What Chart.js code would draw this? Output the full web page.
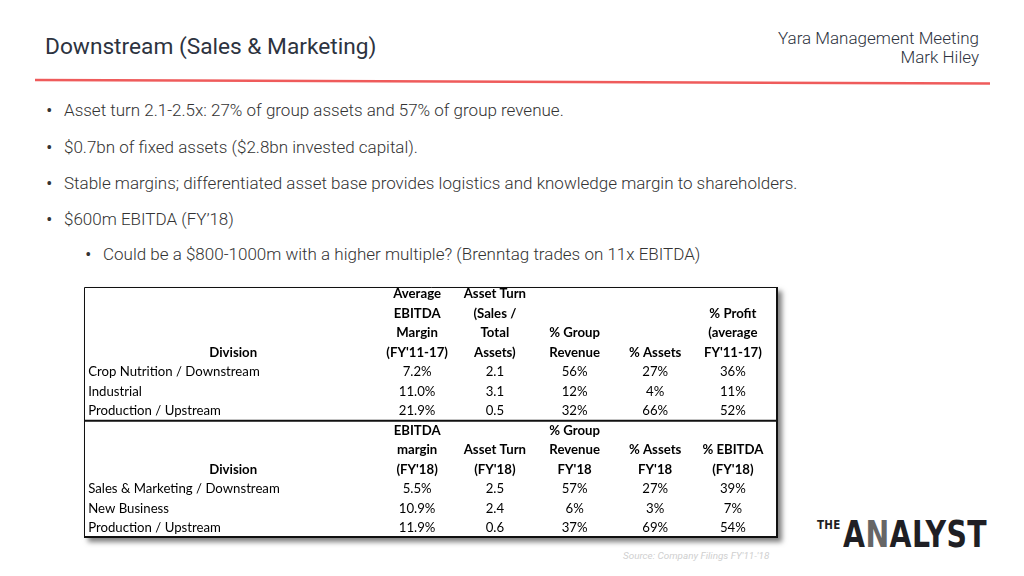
<!DOCTYPE html>
<html>
<head>
<meta charset="utf-8">
<script src="https://cdn.jsdelivr.net/npm/chart.js@4.4.1/dist/chart.umd.min.js"></script>
<style>
  html, body { margin: 0; padding: 0; background: #fff; }
  body { width: 1024px; height: 576px; position: relative; overflow: hidden; font-family: Roboto, "Noto Sans", sans-serif; color: #333; }
  .title { position: absolute; left: 45px; top: 33px; font-size: 22.7px; color: #2d3340; font-weight: 400; }
  .meta { position: absolute; right: 45px; top: 29px; text-align: right; font-size: 17px; line-height: 19px; color: #2d3340; font-weight: 300; }
  .rule { position: absolute; left: 0; top: 0; }
  .bullets { position: absolute; left: 0; top: 0; font-size: 17px; font-weight: 300; color: #333; }
  .bullets div { position: absolute; white-space: nowrap; line-height: 20px; }
  .bullets span.dot { position: absolute; left: -18px; top: 0; font-size: 20px; line-height: 20px; }
  .source { position: absolute; left: 623px; top: 550px; font-size: 9.9px; font-style: italic; color: #cfcfcf; }
  .logo { position: absolute; left: 817px; top: 512px; white-space: nowrap; color: #1f1f24; font-family: "Liberation Sans Narrow", "DejaVu Sans Condensed", sans-serif; font-weight: bold; }
  .logo .the { font-size: 11.5px; vertical-align: 18px; letter-spacing: 0.3px; }
  .logo .big { display: inline-block; font-size: 38px; letter-spacing: 0.5px; margin-left: 2px; transform: scaleX(0.83); transform-origin: left center; }
  .logo .n { color: #666; }
  #wrap { position: absolute; left: 80px; top: 283px; width: 715px; height: 265px; }
</style>
</head>
<body>
<div class="title">Downstream (Sales &amp; Marketing)</div>
<div class="meta">Yara Management Meeting<br>Mark Hiley</div>
<svg class="rule" width="1024" height="100"><line x1="35" y1="80" x2="990" y2="83.5" stroke="#ef5b5b" stroke-width="2.5"/></svg>

<div class="bullets">
  <div style="left:64px; top:100px;"><span class="dot">•</span>Asset turn 2.1-2.5x: 27% of group assets and 57% of group revenue.</div>
  <div style="left:64px; top:137px;"><span class="dot">•</span>$0.7bn of fixed assets ($2.8bn invested capital).</div>
  <div style="left:64px; top:173px;"><span class="dot">•</span>Stable margins; differentiated asset base provides logistics and knowledge margin to shareholders.</div>
  <div style="left:64px; top:209px;"><span class="dot">•</span>$600m EBITDA (FY’18)</div>
  <div style="left:103px; top:244px;"><span class="dot">•</span>Could be a $800-1000m with a higher multiple? (Brenntag trades on 11x EBITDA)</div>
</div>

<div id="wrap"><canvas id="tbl"></canvas></div>

<div class="source">Source: Company Filings FY'11-'18</div>
<div class="logo"><span class="the">THE</span><span class="big">A<span class="n">N</span>ALYST</span></div>

<script>
// ---- data: average FY'11-17 block ----
const divisionsPast = ['Crop Nutrition / Downstream', 'Industrial', 'Production / Upstream'];
const headersPast = [
  ['Division'],
  ['Average', 'EBITDA', 'Margin', "(FY'11-17)"],
  ['Asset Turn', '(Sales /', 'Total', 'Assets)'],
  ['% Group', 'Revenue'],
  ['% Assets'],
  ['% Profit', '(average', "FY'11-17)"]
];
const ebitdaMarginPast = [7.2, 11.0, 21.9];
const assetTurnPast = [2.1, 3.1, 0.5];
const revenueSharePast = [56, 12, 32];
const assetSharePast = [27, 4, 66];
const profitSharePast = [36, 11, 52];

// ---- data: FY'18 block ----
const divisionsFY18 = ['Sales & Marketing / Downstream', 'New Business', 'Production / Upstream'];
const headersFY18 = [
  ['Division'],
  ['EBITDA', 'margin', "(FY'18)"],
  ['Asset Turn', "(FY'18)"],
  ['% Group', 'Revenue', "FY'18"],
  ['% Assets', "FY'18"],
  ['% EBITDA', "(FY'18)"]
];
const ebitdaMarginFY18 = [5.5, 10.9, 11.9];
const assetTurnFY18 = [2.5, 2.4, 0.6];
const revenueShareFY18 = [57, 6, 37];
const assetShareFY18 = [27, 3, 69];
const ebitdaShareFY18 = [39, 7, 54];

// layout in table units (x: 0..100 across, y: text lines down)
const colCenters = [21.5, 48.0, 59.2, 70.7, 82.3, 93.5];
const labelX = 0.6;

const pct1 = v => v.toFixed(1) + '%';
const pct0 = v => v + '%';
const num1 = v => v.toFixed(1);

const blocks = [
  { top: 0, headerRows: 4, headers: headersPast, labels: divisionsPast,
    cols: [[ebitdaMarginPast, pct1], [assetTurnPast, num1], [revenueSharePast, pct0], [assetSharePast, pct0], [profitSharePast, pct0]] },
  { top: 7, headerRows: 3, headers: headersFY18, labels: divisionsFY18,
    cols: [[ebitdaMarginFY18, pct1], [assetTurnFY18, num1], [revenueShareFY18, pct0], [assetShareFY18, pct0], [ebitdaShareFY18, pct0]] }
];

const tablePlugin = {
  id: 'tableCells',
  beforeDraw(chart) {
    const { ctx, scales: { x, y } } = chart;
    const left = x.getPixelForValue(0), right = x.getPixelForValue(100);
    const top = y.getPixelForValue(-0.35), bottom = y.getPixelForValue(12.5);
    ctx.save();
    ctx.shadowColor = 'rgba(0,0,0,0.5)';
    ctx.shadowBlur = 5;
    ctx.shadowOffsetX = 4;
    ctx.shadowOffsetY = 4;
    ctx.fillStyle = '#fff';
    ctx.fillRect(left, top, right - left, bottom - top);
    ctx.restore();
  },
  afterDraw(chart) {
    const { ctx, scales: { x, y } } = chart;
    const left = x.getPixelForValue(0), right = x.getPixelForValue(100);
    const top = y.getPixelForValue(-0.35), bottom = y.getPixelForValue(12.5);
    const mid = y.getPixelForValue(6.5);
    ctx.save();
    ctx.textBaseline = 'middle';
    ctx.fillStyle = '#000';
    blocks.forEach(b => {
      // headers, aligned to the bottom header line
      ctx.font = 'bold 13.2px Lato, "Open Sans", sans-serif';
      ctx.textAlign = 'center';
      b.headers.forEach((lines, c) => {
        lines.forEach((txt, i) => {
          const row = b.top + b.headerRows - lines.length + i;
          ctx.fillText(txt, x.getPixelForValue(colCenters[c]), y.getPixelForValue(row));
        });
      });
      ctx.font = '13.2px Lato, "Open Sans", sans-serif';
      b.labels.forEach((lab, r) => {
        const py = y.getPixelForValue(b.top + b.headerRows + r);
        ctx.textAlign = 'left';
        ctx.fillText(lab, x.getPixelForValue(labelX), py);
        ctx.textAlign = 'center';
        b.cols.forEach(([vals, fmt], c) => {
          ctx.fillText(fmt(vals[r]), x.getPixelForValue(colCenters[c + 1]), py);
        });
      });
    });
    // borders
    ctx.strokeStyle = '#111';
    ctx.lineWidth = 1;
    ctx.beginPath();
    ctx.moveTo(left + 0.5, bottom); ctx.lineTo(left + 0.5, top + 0.5); ctx.lineTo(right, top + 0.5);
    ctx.stroke();
    ctx.lineWidth = 2;
    ctx.beginPath();
    ctx.moveTo(right - 1, top); ctx.lineTo(right - 1, bottom - 1); ctx.lineTo(left, bottom - 1);
    ctx.moveTo(left, mid); ctx.lineTo(right, mid);
    ctx.stroke();
    ctx.restore();
  }
};

new Chart(document.getElementById('tbl'), {
  type: 'scatter',
  data: { datasets: [{ data: [], pointRadius: 0 }] },
  options: {
    responsive: true,
    maintainAspectRatio: false,
    animation: false,
    events: [],
    layout: { padding: { left: 4, top: 4, right: 17, bottom: 10 } },
    plugins: { legend: { display: false }, tooltip: { enabled: false } },
    scales: {
      x: { type: 'linear', min: 0, max: 100, display: false },
      y: { type: 'linear', min: -0.35, max: 12.5, reverse: true, display: false }
    }
  },
  plugins: [tablePlugin]
});
</script>
</body>
</html>
